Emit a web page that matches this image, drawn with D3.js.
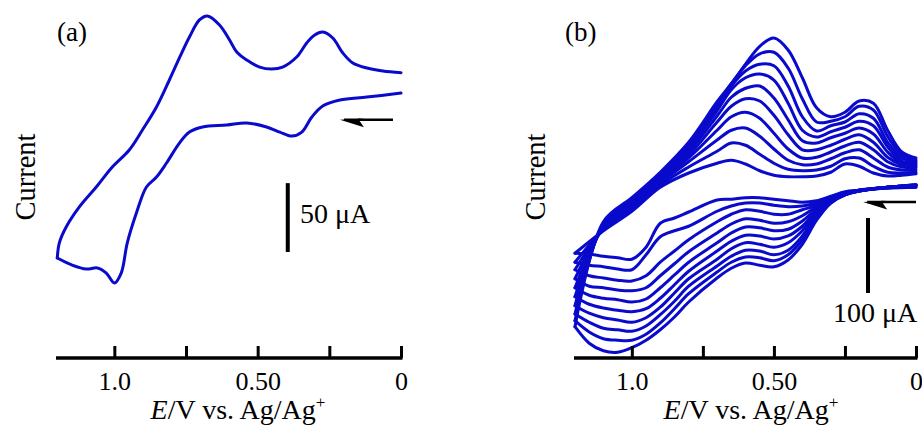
<!DOCTYPE html>
<html>
<head>
<meta charset="utf-8">
<script src="https://cdn.jsdelivr.net/npm/d3@7/dist/d3.min.js"></script>
<style>
  body { margin: 0; background: #fff; }
  svg text { font-family: "Liberation Serif", "Times New Roman", serif; fill: #000; }
</style>
</head>
<body>
<svg id="chart" width="922" height="425"></svg>
<script>
// ---- panel (a): single CV, potential in V, current in uA ----
const aUpE = [0, 0.063, 0.119, 0.168, 0.203, 0.238, 0.273, 0.301, 0.329, 0.364, 0.413, 0.451, 0.493, 0.538, 0.573, 0.598, 0.633, 0.675, 0.703, 0.738, 0.773, 0.808, 0.853, 0.902, 0.948, 1.007, 1.063, 1.122, 1.168, 1.192, 1.199];
const aUpI = [7.2, 8.4, 10.6, 14.2, 21.5, 32.4, 36.7, 34.6, 28.8, 18.6, 11.3, 9.9, 11.3, 16.4, 22.2, 30.9, 41.8, 48.4, 45.5, 33.1, 17.9, 1.9, -17.7, -34.4, -48.9, -61.3, -75.8, -90.3, -104.9, -116.5, -127.4];
const aLoE = [1.199, 1.147, 1.098, 1.059, 1.028, 1.0, 0.976, 0.955, 0.923, 0.888, 0.853, 0.818, 0.773, 0.738, 0.692, 0.608, 0.538, 0.469, 0.423, 0.381, 0.346, 0.311, 0.273, 0.213, 0.119, 0];
const aLoI = [-127.4, -132.5, -135.4, -134.6, -138.3, -145.5, -138.3, -116.5, -94.7, -75.8, -68.6, -58.4, -43.9, -35.9, -32.2, -30.8, -29.3, -32.2, -35.9, -38.8, -35.9, -25, -17, -12.6, -10.5, -7.6];

// ---- panel (b): repeated CVs, same potential grid for each ----
const bUpE = [1.2, 1.1, 1.0, 0.9, 0.8, 0.7, 0.65, 0.6, 0.55, 0.5, 0.45, 0.4, 0.35, 0.3, 0.25, 0.2, 0.15, 0.1, 0.05, 0];
const bLoE = [1.2, 1.15, 1.1, 1.05, 1.0, 0.95, 0.9, 0.85, 0.8, 0.7, 0.65, 0.6, 0.55, 0.5, 0.45, 0.4, 0.35, 0.3, 0.25, 0.2, 0.1, 0];

const bUp = [
  [-103, -73, -47, -15, 4, 17, 21, 16, 7, 1, -1, -1, 0, 5, 16, 13, 4, 0, 1, 3],
  [-115, -72, -44, -12, 12, 33, 44, 41, 29, 17, 9, 7, 8, 13, 23, 24, 13, 5, 4, 5],
  [-125, -71, -41, -9, 19, 48, 61, 64, 53, 36, 21, 15, 16, 23, 31, 35, 24, 12, 8, 8],
  [-137, -69, -39, -7, 24, 61, 79, 85, 77, 57, 36, 24, 25, 32, 40, 45, 35, 19, 12, 11],
  [-149, -68, -37, -5, 28, 72, 93, 103, 100, 81, 55, 35, 35, 41, 49, 55, 45, 25, 15, 13],
  [-161, -67, -36, -3, 32, 80, 105, 117, 120, 104, 75, 47, 44, 51, 57, 64, 56, 32, 17, 15],
  [-173, -65, -35, -1, 36, 87, 115, 131, 136, 128, 97, 61, 52, 59, 65, 73, 67, 39, 20, 17],
  [-184, -64, -32, 1, 39, 92, 120, 140, 149, 147, 120, 79, 60, 67, 72, 83, 77, 45, 24, 19],
  [-193, -63, -31, 3, 41, 96, 123, 147, 163, 165, 144, 103, 72, 73, 79, 93, 88, 53, 28, 21],
  [-201, -61, -29, 5, 45, 99, 123, 149, 173, 184, 168, 131, 91, 79, 85, 100, 97, 61, 32, 24]
];
const bLo = [
  [-103, -104, -107, -109, -111, -95, -63, -56, -48, -32, -31, -29, -29, -31, -33, -35, -33, -27, -21, -19, -16, -15],
  [-115, -119, -121, -124, -125, -105, -81, -73, -67, -47, -40, -36, -36, -39, -41, -40, -36, -28, -23, -19, -16, -15],
  [-125, -133, -136, -139, -140, -133, -115, -100, -85, -61, -51, -45, -47, -51, -51, -45, -39, -29, -23, -19, -16, -13],
  [-137, -147, -149, -152, -153, -149, -133, -117, -101, -76, -64, -57, -59, -63, -61, -53, -41, -31, -24, -19, -15, -13],
  [-149, -159, -163, -165, -168, -164, -149, -132, -115, -89, -76, -68, -69, -73, -71, -60, -44, -32, -24, -19, -15, -13],
  [-161, -171, -176, -179, -181, -177, -163, -145, -127, -100, -87, -79, -80, -84, -80, -67, -47, -32, -24, -19, -15, -12],
  [-173, -183, -189, -192, -195, -189, -175, -156, -137, -111, -97, -89, -91, -95, -89, -73, -49, -33, -25, -20, -15, -12],
  [-184, -195, -203, -205, -207, -200, -185, -167, -147, -120, -107, -99, -100, -105, -99, -80, -52, -35, -25, -20, -15, -12],
  [-193, -208, -217, -219, -219, -211, -196, -177, -157, -128, -115, -108, -109, -113, -105, -85, -56, -36, -25, -20, -15, -12],
  [-201, -223, -233, -235, -229, -219, -205, -188, -168, -136, -123, -116, -119, -121, -112, -91, -59, -36, -25, -20, -15, -12]
];

// axis ticks and labels
const tickVals = [1.0, 0.75, 0.5, 0.25, 0];
const tickText = {1: '1.0', 0.5: '0.50', 0: '0'};

const blue = '#0a0acc';
const svg = d3.select('#chart');

function drawPanel(p) {
  const g = svg.append('g');
  const x = d3.scaleLinear().domain([1.2, 0]).range(p.xRange);
  const y = d3.scaleLinear().domain(p.yDomain).range([358, 0]);

  const line = d3.line()
    .x(d => x(d[0]))
    .y(d => y(d[1]))
    .curve(d3.curveCatmullRom.alpha(0.5));

  g.selectAll('path.cv')
    .data(p.branches)
    .enter()
    .append('path')
    .attr('class', 'cv')
    .attr('d', line)
    .attr('fill', 'none')
    .attr('stroke', blue)
    .attr('stroke-width', p.lw)
    .attr('stroke-linejoin', 'round')
    .attr('stroke-linecap', 'round');

  // bottom axis, ticks pointing up
  const ax = g.append('g')
    .attr('transform', 'translate(0,358)')
    .call(d3.axisBottom(x)
      .tickValues(tickVals)
      .tickSize(-12)
      .tickSizeOuter(0)
      .tickFormat(d => tickText[d] || ''));
  ax.select('.domain').attr('stroke', '#000').attr('stroke-width', 3.5)
    .attr('d', `M${p.xRange[0] - 1},0H${p.xRange[1] + 1.5}`);
  ax.selectAll('.tick line').attr('stroke', '#000').attr('stroke-width', 3);
  ax.selectAll('.tick text')
    .attr('y', 32).attr('dy', 0)
    .style('font-family', '"Liberation Serif", serif')
    .style('font-size', '26px')
    .attr('fill', '#000');

  // axis title
  const t = g.append('text')
    .attr('x', p.titleX).attr('y', 419)
    .attr('text-anchor', 'middle')
    .style('font-size', '28px');
  t.append('tspan').attr('font-style', 'italic').text('E');
  t.append('tspan').text('/V vs. Ag/Ag');
  t.append('tspan').attr('dy', -11).style('font-size', '17px').text('+');

  // y label
  g.append('text')
    .attr('transform', `translate(${p.curX},177) rotate(-90)`)
    .attr('text-anchor', 'middle')
    .style('font-size', '28.5px')
    .text('Current');

  // panel letter
  g.append('text')
    .attr('x', p.letterX).attr('y', 41)
    .style('font-size', '27px')
    .text(p.letter);

  // scale bar
  g.append('line')
    .attr('x1', x(p.bar.E)).attr('x2', x(p.bar.E))
    .attr('y1', y(p.bar.from)).attr('y2', y(p.bar.to))
    .attr('stroke', '#000').attr('stroke-width', 4);
  g.append('text')
    .attr('x', p.bar.tx).attr('y', p.bar.ty)
    .style('font-size', '28px')
    .text(p.bar.label);

  // scan direction arrow
  const ay = y(p.arrow.I), x0 = x(p.arrow.E0), x1 = x(p.arrow.E1);
  g.append('line')
    .attr('x1', x0).attr('x2', x1 + 4)
    .attr('y1', ay).attr('y2', ay)
    .attr('stroke', '#000').attr('stroke-width', 2.5);
  g.append('path')
    .attr('d', `M${x1},${ay}L${x1 + 24},${ay + 7.5}L${x1 + 18},${ay - 1.2}L${x1 + 24},${ay - 1.2}Z`)
    .attr('fill', '#000');
}

drawPanel({
  letter: '(a)', letterX: 57, curX: 35, titleX: 238,
  xRange: [57, 401], yDomain: [-200, 60], lw: 3,
  branches: [
    aUpE.map((e, i) => [e, aUpI[i]]),
    aLoE.map((e, i) => [e, aLoI[i]])
  ],
  bar: {E: 0.395, from: -123, to: -73, label: '50 \u03bcA', tx: 300, ty: 223},
  arrow: {E0: 0.028, E1: 0.213, I: -27}
});

drawPanel({
  letter: '(b)', letterX: 565, curX: 545, titleX: 751,
  xRange: [575, 916], yDomain: [-242.7, 234.7], lw: 3,
  branches: bUp.map(c => bUpE.map((e, i) => [e, c[i]]))
    .concat(bLo.map(c => bLoE.map((e, i) => [e, c[i]]))),
  bar: {E: 0.169, from: -156, to: -56, label: '100 \u03bcA', tx: 833, ty: 322},
  arrow: {E0: 0, E1: 0.186, I: -34.7}
});
</script>
</body>
</html>
